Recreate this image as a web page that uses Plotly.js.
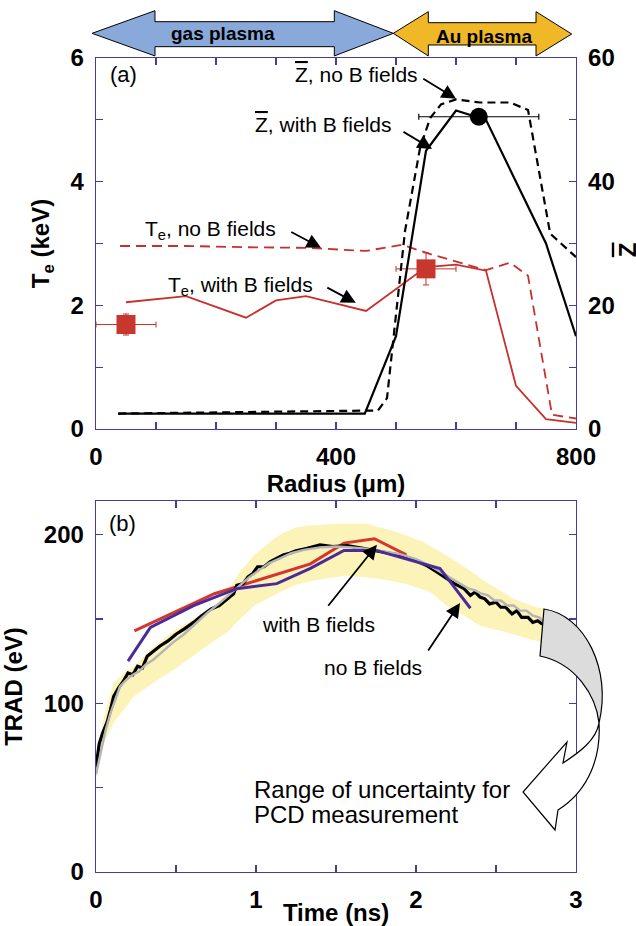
<!DOCTYPE html>
<html><head><meta charset="utf-8">
<script src="https://cdn.plot.ly/plotly-3.0.1.min.js"></script>
<style>html,body{margin:0;padding:0;background:#fff}</style>
</head><body><div id="chart" style="width:636px;height:926px"></div>
<script>
// ---------- Panel (a) data ----------
const teWithB_r   = [50, 150, 250, 300, 350, 450, 550, 600, 650, 700, 750, 800];
const teWithB_val = [2.05, 2.15, 1.80, 2.08, 2.15, 1.91, 2.62, 2.66, 2.56, 0.70, 0.16, 0.10];
const teNoB_r     = [40, 150, 250, 350, 450, 510, 560, 650, 690, 720, 760, 800];
const teNoB_val   = [2.96, 2.96, 2.94, 2.93, 2.88, 2.98, 2.82, 2.57, 2.69, 2.48, 0.23, 0.17];
const zWithB_r    = [37, 448, 500, 550, 600, 650, 700, 750, 800];
const zWithB_val  = [2.5, 2.5, 15, 45, 51.5, 50, 40, 30, 15];
const zNoB_r      = [37, 470, 485, 500, 515, 540, 557, 575, 600, 640, 690, 720, 757, 800];
const zNoB_val    = [2.5, 3.0, 5, 19, 32, 45.4, 50.3, 52.5, 53.3, 52.8, 52.8, 51.6, 31.6, 27.8];
const teMeas_r    = [50, 550];
const teMeas_val  = [1.69, 2.59];
const teMeas_rErr = [50, 50];
const teMeas_err  = [0.17, 0.26];
const zMeas_r     = [638];
const zMeas_val   = [50.5];
const zMeas_rErr  = [100];

// ---------- Panel (b) data ----------
const simT = [0, 0.02, 0.04, 0.07, 0.09, 0.11, 0.14, 0.17, 0.2, 0.23, 0.26, 0.29, 0.32, 0.36, 0.4, 0.45, 0.5, 0.55, 0.61, 0.66, 0.72, 0.77, 0.82, 0.86, 0.88, 0.92, 0.95, 0.98, 1.01, 1.05, 1.09, 1.13, 1.17, 1.21, 1.25, 1.32, 1.4, 1.48, 1.57, 1.66, 1.75, 1.84, 1.92, 2.0, 2.07, 2.13, 2.19, 2.24, 2.3, 2.34, 2.37, 2.4, 2.43, 2.46, 2.5, 2.53, 2.56, 2.6, 2.63, 2.66, 2.7, 2.73, 2.76, 2.79];
const simTrad = [62, 76, 82, 89, 96, 104, 109, 113, 118, 117, 122, 121, 128, 131, 134, 137, 141, 144, 148, 152, 156, 158, 162, 165, 170, 171, 175, 177, 181, 181, 184, 186, 188, 189, 190.5, 192, 194, 193, 193.5, 192, 190.5, 189, 187.5, 184.5, 181.5, 178, 174, 171, 168, 164, 166, 163, 162, 159, 160, 157, 157, 153, 155, 151, 151, 148, 149, 147];
const grayT = [0, 0.03, 0.06, 0.09, 0.12, 0.15, 0.19, 0.23, 0.27, 0.31, 0.36, 0.42, 0.48, 0.55, 0.62, 0.7, 0.78, 0.84, 0.9, 0.96, 1.02, 1.08, 1.15, 1.22, 1.3, 1.4, 1.5, 1.6, 1.7, 1.8, 1.9, 2.0, 2.08, 2.16, 2.22, 2.28, 2.33, 2.37, 2.41, 2.45, 2.49, 2.53, 2.57, 2.61, 2.65, 2.69, 2.73, 2.77, 2.8];
const grayTrad = [58, 72, 84, 94, 102, 110, 114, 117, 119, 123, 126, 131, 136, 141, 147, 154, 160, 165, 170, 175, 179, 183, 186, 189, 191, 192.5, 193, 192.5, 191.5, 190, 188.5, 185.5, 182, 177.5, 174, 171, 168, 167, 165, 164, 161, 161, 158, 158, 155, 155, 152, 151, 148];
const withB_t = [0.24, 0.74, 1.34, 1.55, 1.74, 1.94];
const withB_T = [143, 165, 182.7, 195, 197.6, 188];
const noB_t = [0.2, 0.34, 0.61, 0.88, 1.13, 1.34, 1.55, 1.75, 2.15, 2.34];
const noB_T = [125, 145, 158, 168, 171, 180, 190.7, 190.7, 180, 156.4];
const bandUp_t = [0, 0.05, 0.11, 0.175, 0.24, 0.34, 0.47, 0.61, 0.74, 0.82, 0.9, 0.99, 1.09, 1.15, 1.24, 1.32, 1.52, 1.69, 1.88, 2.05, 2.19, 2.32, 2.44, 2.61, 2.75, 2.85];
const bandUp_T = [68, 92, 112, 118, 122, 132, 142, 150, 158, 166, 178, 188, 196, 200, 204, 205.5, 206.5, 206.5, 201.6, 195.6, 187.7, 179.8, 171.8, 162, 157, 155];
const bandLo_t = [0, 0.05, 0.11, 0.175, 0.24, 0.36, 0.49, 0.61, 0.72, 0.82, 0.9, 0.99, 1.11, 1.24, 1.36, 1.57, 1.78, 1.94, 2.09, 2.19, 2.3, 2.4, 2.57, 2.71, 2.8, 2.85];
const bandLo_T = [55, 76.6, 88.5, 96.4, 104.3, 112.3, 120.2, 128.2, 136.1, 142, 150, 158, 164, 170, 172.8, 175.8, 173.8, 170.8, 166, 158, 152, 146, 142, 138, 136, 135];

// ---------- styling ----------
const FONT = 'Liberation Sans, Arial, Helvetica, sans-serif';
const frame = '#4a3a9a';
const red = '#c8302c';
const redB = '#d2362e';
const purpleLine = '#4b2a9a';
const tickFont = {family: FONT, size: 24, weight: 'bold', color: '#000'};
const titleFont = {family: FONT, size: 24, weight: 'bold', color: '#000'};
const annFont = {family: FONT, size: 21, color: '#000'};

// pixel -> paper helper for decorative shapes
const X0 = 96, X1 = 576, Y0 = 872, Y1 = 58;
function conv(str) {
  return str.replace(/(-?[\d.]+),(-?[\d.]+)/g, (m, a, b) =>
    ((+a - X0) / (X1 - X0)).toFixed(4) + ',' + ((Y0 - +b) / (Y0 - Y1)).toFixed(4));
}

const traces = [
  // panel a
  {x: teNoB_r, y: teNoB_val, xaxis: 'x', yaxis: 'y', mode: 'lines',
   line: {color: red, width: 1.8, dash: '10px,6px'}},
  {x: teWithB_r, y: teWithB_val, xaxis: 'x', yaxis: 'y', mode: 'lines',
   line: {color: red, width: 1.8}},
  {x: zNoB_r, y: zNoB_val, xaxis: 'x', yaxis: 'y2', mode: 'lines',
   line: {color: '#000', width: 2.2, dash: '8px,5px'}},
  {x: zWithB_r, y: zWithB_val, xaxis: 'x', yaxis: 'y2', mode: 'lines',
   line: {color: '#000', width: 2.2}},
  {x: teMeas_r, y: teMeas_val, xaxis: 'x', yaxis: 'y', mode: 'markers',
   marker: {symbol: 'square', size: 19, color: '#c8372d'},
   error_x: {type: 'data', array: teMeas_rErr, color: red, thickness: 1, width: 3},
   error_y: {type: 'data', array: teMeas_err, color: red, thickness: 1, width: 3}},
  {x: zMeas_r, y: zMeas_val, xaxis: 'x', yaxis: 'y2', mode: 'markers',
   marker: {symbol: 'circle', size: 18, color: '#000'},
   error_x: {type: 'data', array: zMeas_rErr, color: '#000', thickness: 1.2, width: 3}},
  // panel b
  {x: bandUp_t.concat(bandLo_t.slice().reverse()), y: bandUp_T.concat(bandLo_T.slice().reverse()),
   xaxis: 'x2', yaxis: 'y3', mode: 'lines', fill: 'toself', fillcolor: '#fbf3b8',
   line: {width: 0, color: 'rgba(0,0,0,0)'}},
  {x: withB_t, y: withB_T, xaxis: 'x2', yaxis: 'y3', mode: 'lines',
   line: {color: redB, width: 3}},
  {x: simT, y: simTrad, xaxis: 'x2', yaxis: 'y3', mode: 'lines',
   line: {color: '#000', width: 3.2}},
  {x: grayT, y: grayTrad, xaxis: 'x2', yaxis: 'y3', mode: 'lines',
   line: {color: '#b4b4b4', width: 2.4}},
  {x: noB_t, y: noB_T, xaxis: 'x2', yaxis: 'y3', mode: 'lines',
   line: {color: purpleLine, width: 3}}
];

function axisBase(extra) {
  return Object.assign({
    showline: true, linecolor: frame, linewidth: 1.3,
    ticks: 'inside', ticklen: 7, tickcolor: frame, tickwidth: 1.2,
    tickfont: tickFont, showgrid: false, zeroline: false,
    ticklabelstandoff: 6
  }, extra);
}

const ovZ = '<span style="text-decoration:overline">Z</span>';
const arrowStyle = {showarrow: true, arrowhead: 2, arrowsize: 1.6, arrowwidth: 1.8, arrowcolor: '#000', standoff: 0, text: ''};

const annotations = [
  // top arrows labels
  {xref: 'paper', yref: 'paper', x: (223 - X0) / 480, y: (Y0 - 34) / 814, text: 'gas plasma', xanchor: 'center', yanchor: 'middle',
   showarrow: false, font: {family: FONT, size: 19, weight: 'bold', color: '#000'}},
  {xref: 'paper', yref: 'paper', x: (484 - X0) / 480, y: (Y0 - 36) / 814, text: 'Au plasma', xanchor: 'center', yanchor: 'middle',
   showarrow: false, font: {family: FONT, size: 19, weight: 'bold', color: '#000'}},
  // panel a
  {xref: 'x', yref: 'y', x: 20, y: 5.73, text: '(a)', showarrow: false, xanchor: 'left', yanchor: 'middle', font: {family: FONT, size: 22, color: '#000'}},
  {xref: 'x', yref: 'y', x: 328, y: 5.73, text: ovZ + ', no B fields', showarrow: false, xanchor: 'left', yanchor: 'middle', font: annFont},
  Object.assign({xref: 'x', yref: 'y', x: 600, y: 5.34, axref: 'x', ayref: 'y', ax: 543, ay: 5.68}, arrowStyle),
  {xref: 'x', yref: 'y', x: 262, y: 4.92, text: ovZ + ', with B fields', showarrow: false, xanchor: 'left', yanchor: 'middle', font: annFont},
  Object.assign({xref: 'x', yref: 'y', x: 560, y: 4.53, axref: 'x', ayref: 'y', ax: 510, ay: 4.82}, arrowStyle),
  {xref: 'x', yref: 'y', x: 78, y: 3.22, text: 'T<sub>e</sub>, no B fields', showarrow: false, xanchor: 'left', yanchor: 'middle', font: annFont},
  Object.assign({xref: 'x', yref: 'y', x: 375, y: 2.93, axref: 'x', ayref: 'y', ax: 323, ay: 3.20}, arrowStyle),
  {xref: 'x', yref: 'y', x: 117, y: 2.32, text: 'T<sub>e</sub>, with B fields', showarrow: false, xanchor: 'left', yanchor: 'middle', font: annFont},
  Object.assign({xref: 'x', yref: 'y', x: 433, y: 2.04, axref: 'x', ayref: 'y', ax: 383, ay: 2.30}, arrowStyle),
  {xref: 'paper', yref: 'y2', x: (612 - X0) / 480, y: 29, text: ovZ, textangle: -90, showarrow: false, xanchor: 'left', yanchor: 'middle',
   font: {family: FONT, size: 24, weight: 'bold', color: '#000'}},
  // panel b
  {xref: 'x2', yref: 'y3', x: 0.069, y: 206.5, text: '(b)', showarrow: false, xanchor: 'left', yanchor: 'middle', font: {family: FONT, size: 22, color: '#000'}},
  {xref: 'x2', yref: 'y3', x: 1.025, y: 147, text: 'with B fields', showarrow: false, xanchor: 'left', yanchor: 'middle', font: annFont},
  Object.assign({xref: 'x2', yref: 'y3', x: 1.756, y: 194, axref: 'x2', ayref: 'y3', ax: 1.444, ay: 157}, arrowStyle),
  {xref: 'x2', yref: 'y3', x: 1.4125, y: 121.4, text: 'no B fields', showarrow: false, xanchor: 'left', yanchor: 'middle', font: annFont},
  Object.assign({xref: 'x2', yref: 'y3', x: 2.275, y: 159.5, axref: 'x2', ayref: 'y3', ax: 2.07, ay: 130.4}, arrowStyle),
  {xref: 'x2', yref: 'y3', x: 0.975, y: 48.8, text: 'Range of uncertainty for', showarrow: false, xanchor: 'left', yanchor: 'middle', font: {family: FONT, size: 24, color: '#000'}},
  {xref: 'x2', yref: 'y3', x: 0.975, y: 33.9, text: 'PCD measurement', showarrow: false, xanchor: 'left', yanchor: 'middle', font: {family: FONT, size: 24, color: '#000'}}
];

const shapes = [
  {type: 'path', xref: 'paper', yref: 'paper', fillcolor: '#88a9da', line: {color: '#000', width: 1},
   path: conv('M 92,33.3 L 155,10.7 L 155,21.7 L 334.3,21.7 L 334.3,10.7 L 393.3,33.3 L 334.3,56 L 334.3,46.7 L 155,46.7 L 155,56 Z')},
  {type: 'path', xref: 'paper', yref: 'paper', fillcolor: '#f0b727', line: {color: '#000', width: 1},
   path: conv('M 393.3,33.3 L 428.3,11.7 L 428.3,22.7 L 536,22.7 L 536,11.7 L 571.7,34 L 536,56 L 536,45 L 428.3,45 L 428.3,56 Z')},
  {type: 'path', xref: 'paper', yref: 'paper', fillcolor: '#dcdcdc', line: {color: '#000', width: 1.2},
   path: conv('M 544,609 C 585,615 612,670 599,723 C 596,695 575,663 540,656 Z')},
  {type: 'path', xref: 'paper', yref: 'paper', fillcolor: '#ffffff', line: {color: '#000', width: 1.2},
   path: conv('M 599,723 C 601,755 590,790 558,810 L 555,830 L 523,792 L 567,742 L 563,763 C 580,752 596,740 599,723 Z')}
];

const layout = {
  width: 636, height: 926,
  margin: {l: 96, r: 60, t: 58, b: 54},
  paper_bgcolor: '#fff', plot_bgcolor: '#fff',
  showlegend: false,
  font: {family: FONT, color: '#000'},
  xaxis: axisBase({domain: [0, 1], anchor: 'y', range: [0, 800], tickvals: [0, 400, 800], ticktext: ['0', '400', '800'],
    mirror: 'allticks', minor: {dtick: 100, tick0: 0, ticks: 'inside', ticklen: 7, tickcolor: frame},
    title: {text: 'Radius (\u03bcm)', font: titleFont, standoff: 4}}),
  yaxis: axisBase({domain: [0.5442, 1], anchor: 'x', range: [0, 6], tickvals: [0, 2, 4, 6],
    minor: {dtick: 1, tick0: 0, ticks: 'inside', ticklen: 7, tickcolor: frame},
    title: {text: 'T<sub>e</sub> (keV)', font: titleFont, standoff: 14}}),
  yaxis2: axisBase({overlaying: 'y', anchor: 'x', side: 'right', range: [0, 60], tickvals: [0, 20, 40, 60],
    minor: {dtick: 10, tick0: 0, ticks: 'inside', ticklen: 7, tickcolor: frame}}),
  xaxis2: axisBase({domain: [0, 1], anchor: 'y3', range: [0, 3], tickvals: [0, 1, 2, 3], mirror: 'allticks',
    minor: {dtick: 0.5, tick0: 0, ticks: 'inside', ticklen: 7, tickcolor: frame},
    title: {text: 'Time (ns)', font: titleFont, standoff: 2}}),
  yaxis3: axisBase({domain: [0, 0.4558], anchor: 'x2', range: [0, 220], tickvals: [0, 100, 200], mirror: 'allticks',
    minor: {dtick: 50, tick0: 0, ticks: 'inside', ticklen: 7, tickcolor: frame},
    title: {text: 'TRAD (eV)', font: titleFont, standoff: 14}}),
  annotations: annotations,
  shapes: shapes
};

Plotly.newPlot('chart', traces, layout, {displayModeBar: false, staticPlot: true});
</script></body></html>
